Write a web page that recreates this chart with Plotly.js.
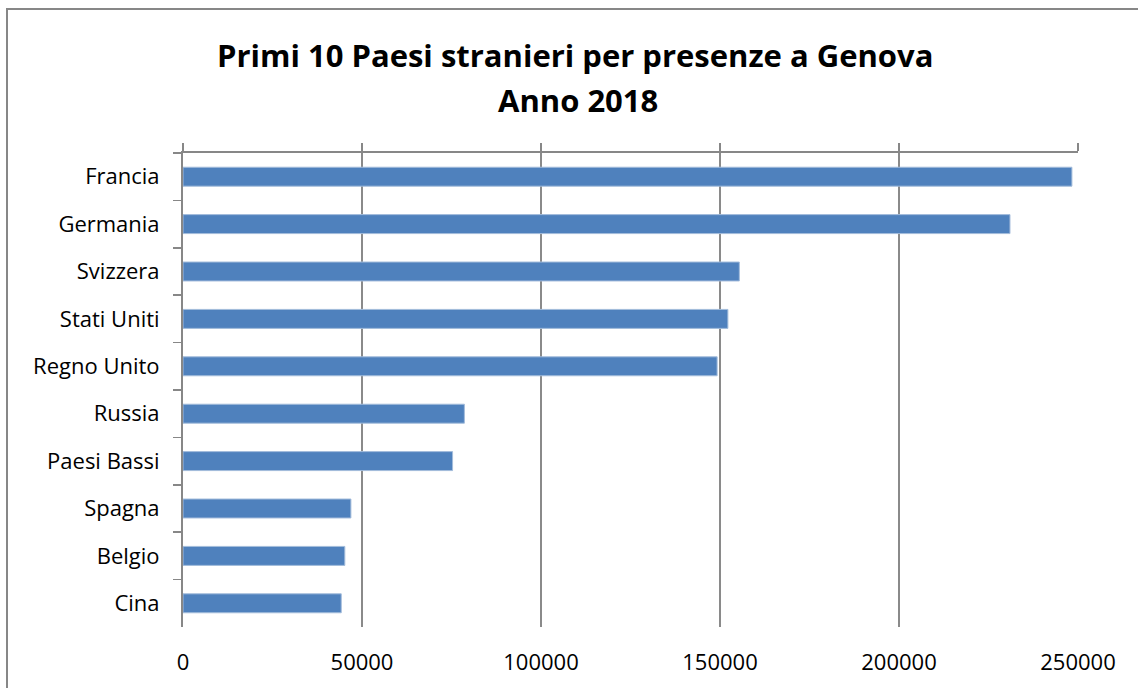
<!DOCTYPE html>
<html>
<head>
<meta charset="utf-8">
<script src="https://cdn.plot.ly/plotly-3.0.1.min.js"></script>
<style>
  html, body { margin: 0; padding: 0; background: #fff; overflow: hidden; }
  #wrap { position: relative; width: 1138px; height: 688px; overflow: hidden; }
  #chart { position: absolute; left: 0; top: 0; width: 1138px; height: 688px; }
  #frame { position: absolute; left: 6px; top: 8px; width: 1200px; height: 800px;
           border: 2px solid #878787; pointer-events: none; box-sizing: border-box; }
</style>
</head>
<body>
<div id="wrap">
  <div id="chart"></div>
  <div id="frame"></div>
</div>
<script>
const titleLines = ["Primi 10 Paesi stranieri per presenze a Genova", "Anno 2018"];
const countries = ["Francia", "Germania", "Svizzera", "Stati Uniti", "Regno Unito",
                   "Russia", "Paesi Bassi", "Spagna", "Belgio", "Cina"];
const presenze = [248300, 231000, 155400, 152200, 149200, 78600, 75300, 46900, 45200, 44200];
const xTicks = [0, 50000, 100000, 150000, 200000, 250000];
const xTickLabels = ["0", "50000", "100000", "150000", "200000", "250000"];

const FONT = "Open Sans, Lato, sans-serif";

const traces = [
  {
    type: "bar",
    orientation: "h",
    x: presenze,
    y: countries,
    marker: { color: "#4F81BD", line: { color: "#A3BCDB", width: 1 } },
    hoverinfo: "x+y",
    showlegend: false
  },
  {
    type: "scatter",
    mode: "markers",
    x: [xTicks[0]],
    y: [countries[0]],
    xaxis: "x2",
    yaxis: "y",
    marker: { opacity: 0, size: 1 },
    hoverinfo: "skip",
    showlegend: false
  }
];

const titleFont = { family: FONT, size: 31, color: "#000", weight: 700 };

const layout = {
  width: 1138,
  height: 688,
  paper_bgcolor: "rgba(0,0,0,0)",
  plot_bgcolor: "rgba(0,0,0,0)",
  margin: { l: 183, r: 60, t: 153, b: 61, autoexpand: false },
  font: { family: FONT, color: "#000", size: 22 },
  annotations: [
    { text: "<b>" + titleLines[0] + "</b>", xref: "paper", yref: "paper",
      x: (575 - 183) / 895, y: (627 - 55) / 474, xanchor: "center", yanchor: "middle",
      showarrow: false, font: titleFont },
    { text: "<b>" + titleLines[1] + "</b>", xref: "paper", yref: "paper",
      x: (578 - 183) / 895, y: (627 - 100) / 474, xanchor: "center", yanchor: "middle",
      showarrow: false, font: titleFont }
  ],
  bargap: 0.6,
  xaxis: {
    range: [0, 250000],
    tickvals: xTicks,
    ticktext: xTickLabels,
    showgrid: true,
    gridcolor: "#8a8a8a",
    gridwidth: 1.5,
    zeroline: false,
    showline: false,
    ticks: "",
    automargin: false,
    ticklabelstandoff: 20,
    tickfont: { family: FONT, size: 22, color: "#000" },
    fixedrange: true
  },
  xaxis2: {
    matches: "x",
    overlaying: "x",
    side: "top",
    range: [0, 250000],
    tickvals: xTicks,
    showticklabels: false,
    showgrid: false,
    zeroline: false,
    automargin: false,
    showline: true,
    linecolor: "#878787",
    linewidth: 2,
    ticks: "outside",
    ticklen: 8,
    tickwidth: 1.5,
    tickcolor: "#878787"
  },
  yaxis: {
    type: "category",
    categoryorder: "array",
    categoryarray: countries,
    range: [countries.length - 0.5, -0.5],
    autorange: false,
    automargin: false,
    showline: true,
    linecolor: "#878787",
    linewidth: 2,
    ticks: "outside",
    tickson: "boundaries",
    ticklen: 8,
    tickwidth: 1.5,
    tickcolor: "#878787",
    showgrid: false,
    ticklabelstandoff: 17,
    tickfont: { family: FONT, size: 22, color: "#000" },
    fixedrange: true
  }
};

Plotly.newPlot("chart", traces, layout, { displayModeBar: false, staticPlot: true });
</script>
</body>
</html>
